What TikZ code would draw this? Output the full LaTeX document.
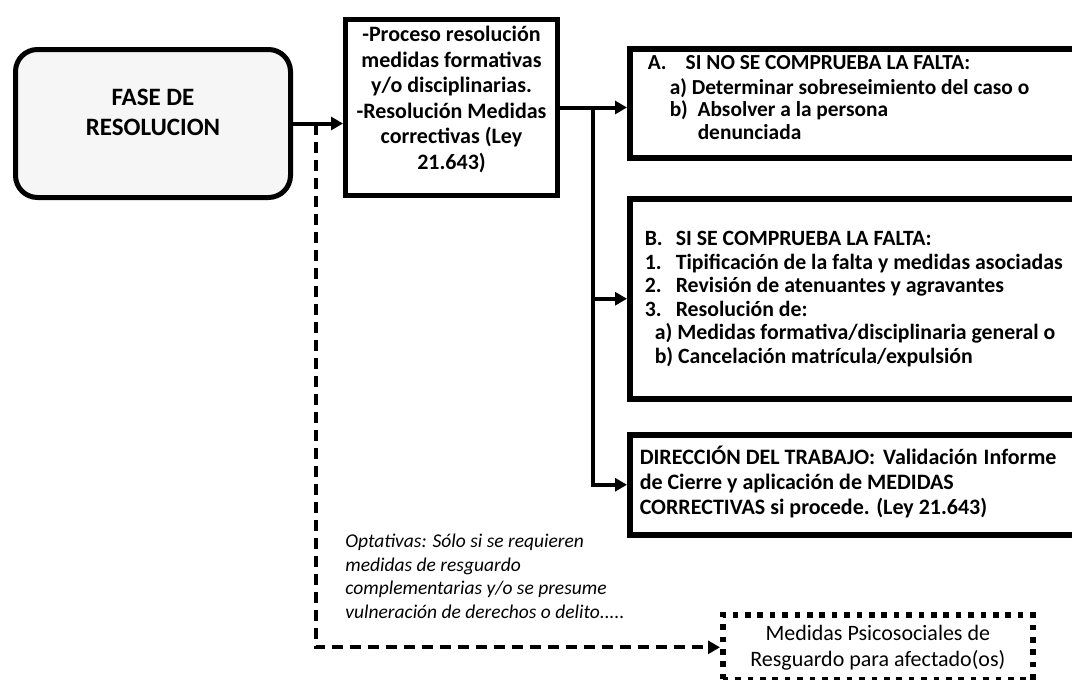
\documentclass[tikz,border=0pt]{standalone}
\usepackage{fontspec}
\setmainfont{Carlito}
\usetikzlibrary{arrows.meta, calc}
\tikzset{
    >={Triangle[length=6pt, width=6.5pt]}, % filled arrow heads
    box/.style={draw, line width=2.75pt, inner sep=0pt, anchor=north west, font=\bfseries}, % framed boxes
    link/.style={->, line width=2pt}, % solid connectors
    optional/.style={->, line width=2pt, dash pattern=on 5.5pt off 3.5pt}, % dashed connector
}
% text block of a box: width, height, top gap, content
\newcommand{\boxtext}[4]{\parbox[c][#2][t]{#1}{\vspace*{#3}#4}}

\begin{document}
\begin{tikzpicture}[x=0.5pt, y=-0.5pt]
\useasboundingbox (0,0) rectangle (1072,680);
\clip (0,0) rectangle (1072,680);

\node[box, line width=2.5pt, rounded corners=11pt, fill=gray!7] (fase) at (13,47)
    {\boxtext{137.5pt}{74pt}{17.25pt}{\centering\fontsize{12.5}{15}\selectfont\strut FASE DE\\RESOLUCION}};
\node[box, line width=2.5pt] (proceso) at (343,17)
    {\boxtext{106pt}{88pt}{2.1pt}{\centering\fontsize{11}{12.75}\selectfont\strut -Proceso resolución\\medidas formativas\\y/o disciplinarias.\\-Resolución Medidas\\correctivas (Ley\\21.643)}};
\node[box] (faltaA) at (627,46)
    {\boxtext{236.5pt}{54.5pt}{2.6pt}{\fontsize{10.7}{11.25}\selectfont\leftskip=9pt\strut
    \makebox[19pt][l]{A.}SI NO SE COMPRUEBA LA FALTA:\\
    \hspace*{11pt}a) Determinar sobreseimiento del caso o\\
    \hspace*{11pt}b)\ \ Absolver a la persona\\
    \hspace*{25pt}denunciada}};
\node[box] (faltaB) at (627,196)
    {\boxtext{236.5pt}{100pt}{15.3pt}{\fontsize{10.9}{11.75}\selectfont\leftskip=7.5pt\strut
    \makebox[15.5pt][l]{B.}SI SE COMPRUEBA LA FALTA:\\
    \makebox[15.5pt][l]{1.}Tipificación de la falta y medidas asociadas\\
    \makebox[15.5pt][l]{2.}Revisión de atenuantes y agravantes\\
    \makebox[15.5pt][l]{3.}Resolución de:\\
    \hspace*{5pt}a) Medidas formativa/disciplinaria general o\\
    \hspace*{5pt}b) Cancelación matrícula/expulsión}};
\node[box] (trabajo) at (627,432)
    {\boxtext{236.5pt}{50pt}{5.75pt}{\fontsize{11}{12.5}\selectfont\leftskip=5pt\strut
    DIRECCIÓN DEL TRABAJO:\hspace{4pt}Validación\hspace{3pt}Informe\\
    de Cierre y aplicación de MEDIDAS\\
    CORRECTIVAS si procede. (Ley 21.643)}};
\node[draw, line width=2.8pt, dash pattern=on 2.8pt off 3.4pt, inner sep=0pt, anchor=north west,
    minimum width=155pt, minimum height=32.5pt, align=center, font=\fontsize{11}{13}\selectfont] (apoyo) at (720,612)
    {Medidas Psicosociales de\\Resguardo para afectado(os)};
\node[anchor=north west, inner sep=0pt, align=left, font=\itshape\fontsize{9.75}{11.75}\selectfont] (nota) at (345,534)
    {Optativas: Sólo si se requieren\\medidas de resguardo\\complementarias y/o se presume\\vulneración de derechos o delito.....};

\coordinate (branch) at ($(fase.east)!0.45!(proceso.west |- fase.east)$);
\coordinate (split) at (593,0 |- proceso.east);

\draw[link] (fase.east) -- (proceso.west |- fase.east);
\draw[link] (proceso.east) -- (faltaA.west |- proceso.east);
\draw[link] (split) |- (faltaB.west);
\draw[link] (split) |- (trabajo.west);
\draw[optional] (branch) |- (apoyo.west);
\end{tikzpicture}
\end{document}
